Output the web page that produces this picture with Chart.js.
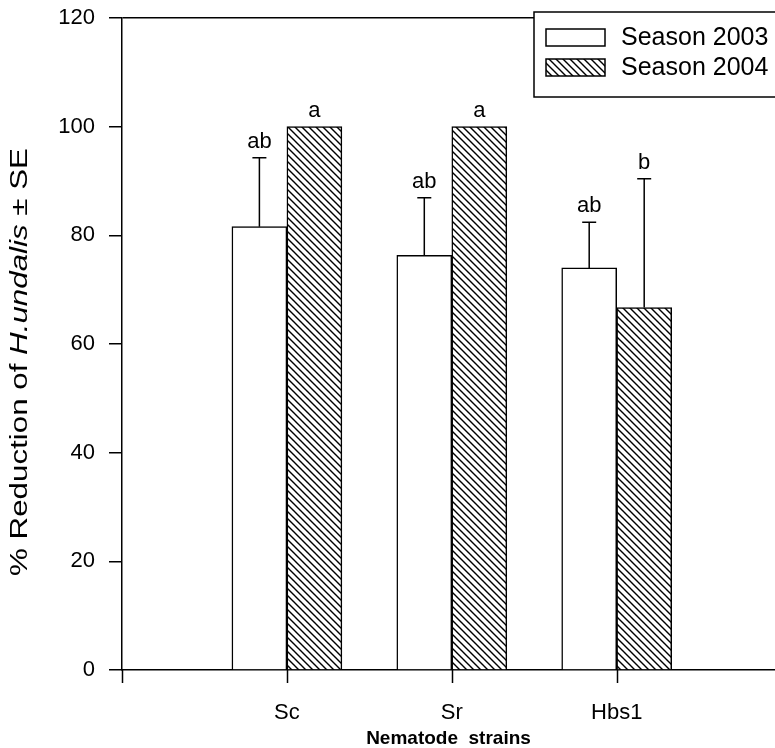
<!DOCTYPE html>
<html>
<head>
<meta charset="utf-8">
<script src="https://cdn.jsdelivr.net/npm/chart.js@4.4.0/dist/chart.umd.min.js"></script>
<style>
  html, body { margin: 0; padding: 0; background: #fff; overflow: hidden; }
  #wrap { width: 775px; height: 748px; }
</style>
</head>
<body>
<div id="wrap"><canvas id="myChart" width="775" height="748"></canvas></div>
<script>
// values
var strains = ['Sc', 'Sr', 'Hbs1'];
var season2003 = [81.6, 76.3, 74.0];
var season2004 = [100, 100, 66.7];
var se2003 = [12.7, 10.6, 8.4];
var se2004 = [0, 0, 23.7];
var letters2003 = ['ab', 'ab', 'ab'];
var letters2004 = ['a', 'a', 'b'];
var yTicks = [0, 20, 40, 60, 80, 100, 120];

var FONT = "'Liberation Sans', Arial, Helvetica, sans-serif";

// back-slash hatch for season 2004
function hatch() {
    var s = 7;
    var c = document.createElement('canvas');
    c.width = s; c.height = s;
    var g = c.getContext('2d');
    g.fillStyle = '#fff';
    g.fillRect(0, 0, s, s);
    g.strokeStyle = '#000';
    g.lineWidth = 1.4;
    g.beginPath();
    g.moveTo(-1, -1); g.lineTo(s + 1, s + 1);
    g.moveTo(-1, s - 1); g.lineTo(1, s + 1);
    g.moveTo(s - 1, -1); g.lineTo(s + 1, 1);
    g.stroke();
    return g.createPattern(c, 'repeat');
}
var hatchFill = hatch();

function points(vals) {
    return vals.map(function(v, i) { return {x: i + 1, y: v}; });
}

var errorBars = {
    id: 'errorBars',
    afterDatasetsDraw: function(chart) {
        var ctx = chart.ctx;
        var y = chart.scales.y;
        var errs = [se2003, se2004];
        var labs = [letters2003, letters2004];
        ctx.save();
        ctx.strokeStyle = '#000';
        ctx.fillStyle = '#000';
        ctx.lineWidth = 1.5;
        ctx.font = '22px ' + FONT;
        ctx.textAlign = 'center';
        ctx.textBaseline = 'alphabetic';
        chart.data.datasets.forEach(function(ds, d) {
            var meta = chart.getDatasetMeta(d);
            meta.data.forEach(function(bar, i) {
                var top = bar.y;
                if (errs[d][i] > 0) {
                    top = y.getPixelForValue(ds.data[i].y + errs[d][i]);
                    ctx.beginPath();
                    ctx.moveTo(bar.x, bar.y);
                    ctx.lineTo(bar.x, top);
                    ctx.moveTo(bar.x - 7, top);
                    ctx.lineTo(bar.x + 7, top);
                    ctx.stroke();
                }
                ctx.fillText(labs[d][i], bar.x, top - 10);
            });
        });
        ctx.restore();
    }
};

var extras = {
    id: 'extras',
    afterDraw: function(chart) {
        var ctx = chart.ctx;
        ctx.save();
        // y axis title with italic species name (drawn stretched like the scan)
        var parts = [['% Reduction of ', ''], ['H.undalis', 'italic '], [' \u00b1 SE', '']];
        ctx.translate(21, 362);
        ctx.rotate(-Math.PI / 2);
        ctx.textBaseline = 'middle';
        ctx.fillStyle = '#000';
        var total = 0;
        parts.forEach(function(p) {
            ctx.font = p[1] + '23px ' + FONT;
            total += ctx.measureText(p[0]).width;
        });
        ctx.scale(428 / total, 1);
        var x = -total / 2;
        parts.forEach(function(p) {
            ctx.font = p[1] + '23px ' + FONT;
            ctx.fillText(p[0], x, 0);
            x += ctx.measureText(p[0]).width;
        });
        ctx.restore();

        // x tick marks at each strain
        var xs = chart.scales.x;
        ctx.save();
        ctx.strokeStyle = '#000';
        ctx.lineWidth = 1.5;
        ctx.beginPath();
        [0, 1, 2, 3].forEach(function(v) {
            var px = Math.round(xs.getPixelForValue(v)) + 0.5;
            ctx.moveTo(px, chart.chartArea.bottom);
            ctx.lineTo(px, chart.chartArea.bottom + 13);
        });
        ctx.stroke();
        ctx.restore();

        // legend box
        ctx.save();
        ctx.strokeStyle = '#000';
        ctx.lineWidth = 1.5;
        ctx.fillStyle = '#fff';
        ctx.fillRect(534, 12, 260, 85);
        ctx.strokeRect(534, 12, 260, 85);
        var ds = chart.data.datasets;
        [29, 59].forEach(function(top, k) {
            ctx.fillStyle = ds[k].backgroundColor;
            ctx.fillRect(546, top, 59, 17);
            ctx.strokeRect(546, top, 59, 17);
            ctx.fillStyle = '#000';
            ctx.font = '25px ' + FONT;
            ctx.textBaseline = 'middle';
            ctx.textAlign = 'left';
            ctx.fillText(ds[k].label, 621, top + 9);
        });
        ctx.restore();
    }
};

var ctx = document.getElementById('myChart').getContext('2d');
var myChart = new Chart(ctx, {
    type: 'bar',
    data: {
        datasets: [{
            label: 'Season 2003',
            data: points(season2003),
            backgroundColor: '#ffffff',
            borderColor: '#000000',
            borderWidth: 1.5
        }, {
            label: 'Season 2004',
            data: points(season2004),
            backgroundColor: hatchFill,
            borderColor: '#000000',
            borderWidth: 1.5
        }]
    },
    options: {
        responsive: false,
        animation: false,
        layout: {padding: {top: 18, left: 0, right: 0, bottom: 0}},
        barThickness: 55,
        plugins: {
            legend: {display: false},
            tooltip: {enabled: false}
        },
        scales: {
            x: {
                type: 'linear',
                min: 0,
                max: 3.96,
                offset: false,
                afterFit: function(s) { s.height = 78; s.paddingLeft = 0; s.paddingRight = 0; },
                border: {color: '#000', width: 1.5},
                grid: {display: false, offset: false, drawOnChartArea: false, tickLength: 13},
                ticks: {
                    stepSize: 1,
                    includeBounds: false,
                    padding: 17,
                    color: '#000',
                    font: {family: FONT, size: 22},
                    maxRotation: 0,
                    callback: function(v) { return strains[v - 1] || ''; }
                },
                title: {
                    display: true,
                    text: 'Nematode  strains',
                    color: '#000',
                    font: {family: FONT, size: 19, weight: 'bold', lineHeight: 1},
                    padding: {top: 0, bottom: 0}
                }
            },
            y: {
                min: 0,
                max: 120,
                afterFit: function(s) { s.width = 122; s.paddingTop = 0; s.paddingBottom = 0; },
                afterBuildTicks: function(s) { s.ticks = yTicks.map(function(v) { return {value: v}; }); },
                border: {color: '#000', width: 1.5},
                grid: {
                    color: function(c) { return c.tick && c.tick.value === 120 ? '#000' : 'rgba(0,0,0,0)'; },
                    lineWidth: 1.5,
                    tickColor: '#000',
                    tickLength: 13,
                    tickWidth: 1.5
                },
                ticks: {
                    padding: 14,
                    color: '#000',
                    font: {family: FONT, size: 22}
                }
            }
        }
    },
    plugins: [errorBars, extras]
});
</script>
</body>
</html>
